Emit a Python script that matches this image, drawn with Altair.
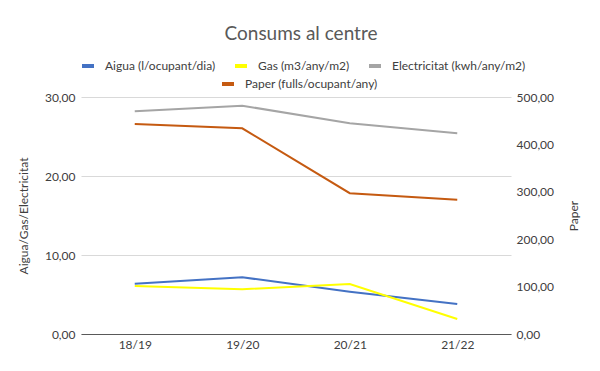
import altair as alt
import pandas as pd

periods = ["18/19", "19/20", "20/21", "21/22"]
aigua = [6.37, 7.18, 5.35, 3.80]
gas = [6.08, 5.66, 6.33, 1.90]
electricitat = [28.19, 28.90, 26.67, 25.40]
paper = [443, 434, 297, 283]

left_names = ["Aigua (l/ocupant/dia)", "Gas (m3/any/m2)", "Electricitat (kwh/any/m2)"]
left_colors = ["#4472C4", "#FFFF00", "#A5A5A5"]
paper_name = "Paper (fulls/ocupant/any)"
paper_color = "#C55A11"

rows = []
for name, vals in zip(left_names, [aigua, gas, electricitat]):
    for p, v in zip(periods, vals):
        rows.append({"period": p, "series": name, "value": v})
df_left = pd.DataFrame(rows)
df_paper = pd.DataFrame({"period": periods, "series": paper_name, "value": paper})

FONT = "Lato"
TXT = "#404040"
fmt = "replace(format(datum.value, '.2f'), '.', ',')"

x_enc = alt.X("period:N", sort=periods, title=None,
              axis=alt.Axis(labelAngle=0, ticks=False, domainColor="#595959", domainWidth=1,
                            labelColor=TXT, labelFontSize=12, labelFont=FONT, labelPadding=5,
                            grid=False))

left = alt.Chart(df_left).mark_line(strokeWidth=2).encode(
    x=x_enc,
    y=alt.Y("value:Q", scale=alt.Scale(domain=[0, 30], nice=False),
            axis=alt.Axis(title="Aigua/Gas/Electricitat", values=[0, 10, 20, 30], labelExpr=fmt,
                          grid=True, gridColor="#D9D9D9", domain=False, ticks=False,
                          labelColor=TXT, labelFontSize=12, labelFont=FONT, labelPadding=6,
                          titleFont=FONT, titleFontSize=12, titleFontWeight="normal",
                          titleColor=TXT, titlePadding=14)),
    color=alt.Color("series:N", sort=left_names,
                    scale=alt.Scale(domain=left_names, range=left_colors),
                    legend=alt.Legend(title=None, orient="none", direction="horizontal",
                                      legendX=-1, legendY=-39, symbolType="stroke",
                                      symbolStrokeWidth=4, symbolSize=144,
                                      labelFont=FONT, labelFontSize=12, labelColor=TXT,
                                      columnPadding=11, labelOffset=9)),
)

right = alt.Chart(df_paper).mark_line(strokeWidth=2).encode(
    x=x_enc,
    y=alt.Y("value:Q", scale=alt.Scale(domain=[0, 500], nice=False),
            axis=alt.Axis(title="Paper", orient="right", values=[0, 100, 200, 300, 400, 500],
                          labelExpr=fmt, grid=False, domain=False, ticks=False,
                          labelColor=TXT, labelFontSize=12, labelFont=FONT, labelPadding=5,
                          titleFont=FONT, titleFontSize=12, titleFontWeight="normal",
                          titleColor=TXT, titlePadding=27, titleAngle=270)),
    color=alt.Color("series:N",
                    scale=alt.Scale(domain=[paper_name], range=[paper_color]),
                    legend=alt.Legend(title=None, orient="none", direction="horizontal",
                                      legendX=139, legendY=-21, symbolType="stroke",
                                      symbolStrokeWidth=4, symbolSize=144,
                                      labelFont=FONT, labelFontSize=12, labelColor=TXT,
                                      labelOffset=9)),
)

chart = alt.layer(left, right).resolve_scale(y="independent", color="independent").properties(
    width=430, height=237,
    title=alt.TitleParams("Consums al centre", anchor="middle", fontSize=19, color="#595959",
                          font=FONT, fontWeight="normal", offset=14, dx=5),
    autosize=alt.AutoSizeParams(type="none"),
    padding={"left": 73, "top": 89, "right": 75, "bottom": 25},
).configure_view(stroke=None)

chart.save("out.html", embed_options={"renderer": "svg", "actions": False})
